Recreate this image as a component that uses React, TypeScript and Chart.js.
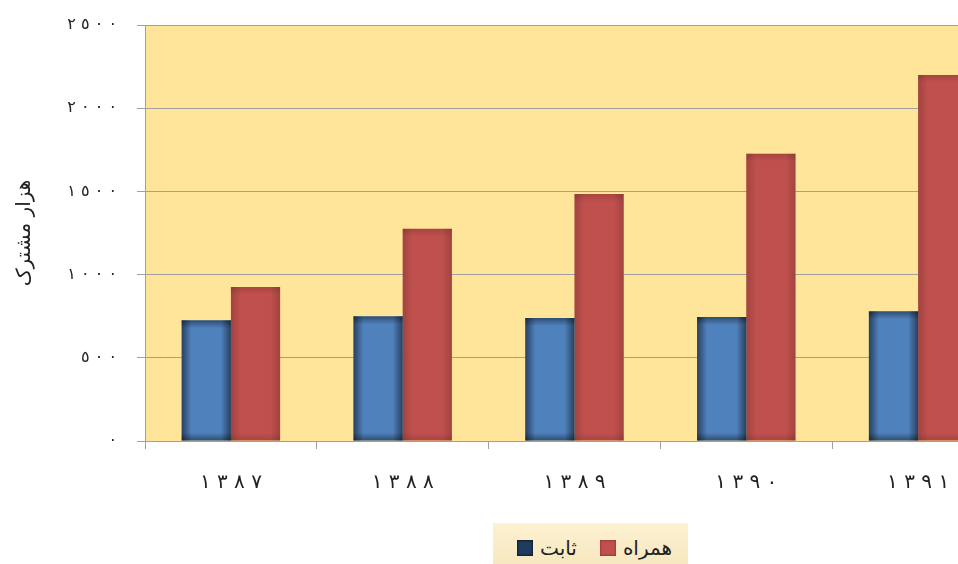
import React, { useEffect, useRef } from "react";
import { Chart, registerables } from "chart.js";

Chart.register(...registerables);

const years = ["۱۳۸۷", "۱۳۸۸", "۱۳۸۹", "۱۳۹۰", "۱۳۹۱"];
const seriesNames = ["ثابت", "همراه"];
const fixedLine = [725, 749, 739, 745, 779];
const mobile = [925, 1275, 1484, 1727, 2200];
const yTicks = [0, 500, 1000, 1500, 2000, 2500];
const yTitle = "هزار مشترک";

const toArabicDigits = (s: string) =>
  s.replace(/[0-9۰-۹]/g, (d) => {
    const code = d.charCodeAt(0);
    const n = code >= 0x06f0 ? code - 0x06f0 : code - 48;
    return String.fromCharCode(0x0660 + n);
  });
const spaced = (s: string) => toArabicDigits(s).split("").join("\u200E \u200E");

const BLUE = "#4f81bd";
const RED = "#c0504d";

const barShade = {
  id: "barShade",
  afterDatasetsDraw(chart: any) {
    const ctx = chart.ctx;
    chart.data.datasets.forEach((ds: any, di: number) => {
      const meta = chart.getDatasetMeta(di);
      const a = di === 0 ? 0.5 : 0.16;
      meta.data.forEach((bar: any) => {
        const { x, y, base, width } = bar.getProps(["x", "y", "base", "width"], true);
        const l = x - width / 2;
        const r = x + width / 2;
        const h = base - y;
        ctx.save();
        const g = ctx.createLinearGradient(l, 0, r, 0);
        g.addColorStop(0, `rgba(0,0,0,${a})`);
        g.addColorStop(0.2, "rgba(0,0,0,0)");
        g.addColorStop(0.8, "rgba(0,0,0,0)");
        g.addColorStop(1, `rgba(0,0,0,${a})`);
        ctx.fillStyle = g;
        ctx.fillRect(l, y, width, h);
        const gv = ctx.createLinearGradient(0, y, 0, base);
        const f = Math.min(8 / h, 0.5);
        gv.addColorStop(0, `rgba(0,0,0,${a * 0.8})`);
        gv.addColorStop(f, "rgba(0,0,0,0)");
        gv.addColorStop(1 - f, "rgba(0,0,0,0)");
        gv.addColorStop(1, `rgba(0,0,0,${a * 0.8})`);
        ctx.fillStyle = gv;
        ctx.fillRect(l, y, width, h);
        ctx.restore();
      });
    });
  },
};

const plotBg = {
  id: "plotBg",
  beforeDraw(chart: any) {
    const { ctx, chartArea } = chart;
    ctx.save();
    ctx.fillStyle = "#ffe599";
    ctx.fillRect(chartArea.left, chartArea.top, chartArea.right - chartArea.left, chartArea.bottom - chartArea.top);
    ctx.restore();
  },
};

export default function App() {
  const ref = useRef<HTMLCanvasElement>(null);
  useEffect(() => {
    if (!ref.current) return;
    const chart = new Chart(ref.current, {
      type: "bar",
      data: {
        labels: years,
        datasets: [
          { label: seriesNames[0], data: fixedLine, backgroundColor: BLUE, borderWidth: 0 },
          { label: seriesNames[1], data: mobile, backgroundColor: RED, borderWidth: 0 },
        ],
      },
      options: {
        responsive: false,
        animation: false,
        devicePixelRatio: 1,
        layout: { padding: { top: 25, right: 6, left: 0, bottom: 0 } },
        datasets: { bar: { categoryPercentage: 0.573, barPercentage: 1 } },
        plugins: { legend: { display: false }, tooltip: { enabled: false } },
        scales: {
          x: {
            grid: { drawOnChartArea: false, drawTicks: true, tickLength: 8, color: "#a0a0a0", offset: true },
            border: { color: "#a0a0a0", width: 1 },
            ticks: {
              padding: 22,
              color: "#222",
              font: { family: "DejaVu Sans", size: 20 },
              callback: (_v: any, i: number) => spaced(years[i]),
            },
            afterFit: (s: any) => {
              s.height = 123;
              s.paddingLeft = 0;
              s.paddingRight = 0;
              s.paddingTop = 0;
              s.paddingBottom = 0;
            },
          },
          y: {
            min: 0,
            max: 2500,
            afterBuildTicks: (s: any) => { s.ticks = yTicks.map((v) => ({ value: v })); },
            grid: { color: "#a0a0a0", tickLength: 8, lineWidth: 1 },
            border: { color: "#a0a0a0", width: 1 },
            ticks: {
              padding: 20,
              color: "#222",
              font: { family: "DejaVu Sans", size: 16 },
              callback: (v: any) => spaced(String(v)),
            },
            title: {
              display: true,
              text: yTitle,
              color: "#222",
              font: { family: "DejaVu Sans", size: 20 },
              padding: { top: 13, bottom: 4 },
            },
            afterFit: (s: any) => {
              s.width = 145;
              s.paddingTop = 0;
              s.paddingBottom = 0;
              s.paddingLeft = 0;
              s.paddingRight = 0;
            },
          },
        },
      },
      plugins: [plotBg, barShade],
    });
    return () => chart.destroy();
  }, []);

  const item = (color: string, text: string, dark: string, mr: number) => (
    <span style={{ display: "inline-flex", alignItems: "center", marginRight: mr }}>
      <span style={{ width: 16, height: 16, background: color, boxShadow: `inset 0 0 3px ${dark}`, display: "inline-block", marginRight: 7 }} />
      <span dir="rtl" style={{ fontFamily: "DejaVu Sans", fontSize: 20, lineHeight: "24px", color: "#222" }}>{text}</span>
    </span>
  );

  return (
    <div style={{ position: "absolute", left: 0, top: 0, width: 958, height: 564, overflow: "hidden", background: "#fff" }}>
      <canvas ref={ref} width={1010} height={564} style={{ position: "absolute", left: 0, top: 0, width: 1010, height: 564 }} />
      <div
        style={{
          position: "absolute",
          left: 493,
          top: 523,
          width: 195,
          height: 48,
          background: "linear-gradient(#fdf1d2, #f6e6bd)",
          display: "flex",
          alignItems: "flex-start",
          justifyContent: "flex-start",
          paddingTop: 13,
          paddingLeft: 24,
          boxSizing: "border-box",
        }}
      >
        {item("#1f3b5e", seriesNames[0], "#000", 23)}
        {item(RED, seriesNames[1], "#7a2a28", 0)}
      </div>
    </div>
  );
}
